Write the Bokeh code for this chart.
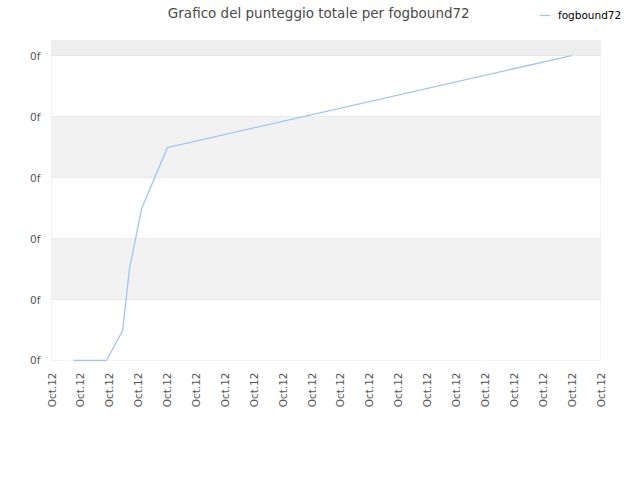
import math
from bokeh.plotting import figure
from bokeh.models import (FixedTicker, Range1d, Legend, LegendItem,
                          BoxAnnotation, Label)
from bokeh.embed import file_html
from bokeh.resources import INLINE

# ---- data ----
x_tick_labels = ["Oct.12"] * 20
x_ticks = list(range(len(x_tick_labels)))
y_ticks = [0, 1, 2, 3, 4, 5]
y_tick_labels = ["0f"] * len(y_ticks)

time_pos = [0.76, 1.90, 2.46, 2.70, 3.12, 4.01, 18.0]
score = [0.0, 0.0, 0.49, 1.51, 2.49, 3.49, 5.0]
series_name = "fogbound72"
title_text = "Grafico del punteggio totale per fogbound72"

FONT = "DejaVu Sans"

# plot-area extent (data units); the canvas frame is a bit larger so that
# the header (title + legend) can live inside it and the border is not clipped
area_top = 5.246
X_START, X_END = -0.035, 19.761
Y_START, Y_END = -0.0164, 5.902

p = figure(width=640, height=480, output_backend="svg", toolbar_location=None,
           title=None,
           x_range=Range1d(X_START, X_END), y_range=Range1d(Y_START, Y_END),
           min_border_left=50, min_border_right=18, min_border_top=0,
           min_border_bottom=119)

p.outline_line_color = None
p.background_fill_color = "white"
p.border_fill_color = "white"
p.xgrid.grid_line_color = None
p.ygrid.grid_line_color = None

# plot area: alternating bands between y ticks
edges = y_ticks + [area_top]
for i in range(len(edges) - 1):
    if i % 2 == 1:
        fill = "#f2f2f2" if i < len(edges) - 2 else "#eeeeee"
        p.add_layout(BoxAnnotation(left=x_ticks[0], right=x_ticks[-1],
                                   bottom=edges[i], top=edges[i + 1],
                                   fill_color=fill, fill_alpha=1,
                                   line_color=None, level="underlay"))
# grid lines + border, drawn over the bands
for i in range(len(edges) - 1):
    p.add_layout(BoxAnnotation(left=x_ticks[0], right=x_ticks[-1],
                               bottom=edges[i], top=edges[i + 1],
                               fill_alpha=0, line_color="#dadada",
                               line_width=1, level="underlay"))

p.xaxis.ticker = FixedTicker(ticks=x_ticks)
p.xaxis.major_label_overrides = {t: l for t, l in zip(x_ticks, x_tick_labels)}
p.xaxis.major_label_orientation = math.pi / 2
p.yaxis.ticker = FixedTicker(ticks=y_ticks)
p.yaxis.major_label_overrides = {t: l for t, l in zip(y_ticks, y_tick_labels)}

for ax in (p.xaxis[0], p.yaxis[0]):
    ax.axis_line_color = None
    ax.major_tick_line_color = None
    ax.minor_tick_line_color = None
    ax.major_tick_out = 0
    ax.major_tick_in = 0
    ax.major_label_text_font = FONT
    ax.major_label_text_font_size = "10.5px"
    ax.major_label_text_color = "#555555"
p.xaxis.major_label_standoff = 11
p.yaxis.major_label_standoff = 10

r = p.line(time_pos, score, line_color="#9dc6f2", line_width=1.3)

# title (inside the enlarged frame, above the plot area)
p.add_layout(Label(x=(x_ticks[0] + x_ticks[-1]) / 2 - 0.25, y=Y_END - 0.21,
                   text=title_text, text_align="center", text_baseline="middle",
                   text_font=FONT, text_font_size="13.5px",
                   text_color="#4a4a4a"))

legend = Legend(items=[LegendItem(label=series_name, renderers=[r])],
                location=(489, 340), orientation="horizontal",
                padding=0, margin=0, spacing=0, glyph_width=11, glyph_height=12,
                label_standoff=8, border_line_color=None,
                background_fill_alpha=0,
                label_text_font=FONT, label_text_font_size="10.5px",
                label_text_color="#000000")
p.add_layout(legend)

open("out.html", "w").write(file_html(p, INLINE))
